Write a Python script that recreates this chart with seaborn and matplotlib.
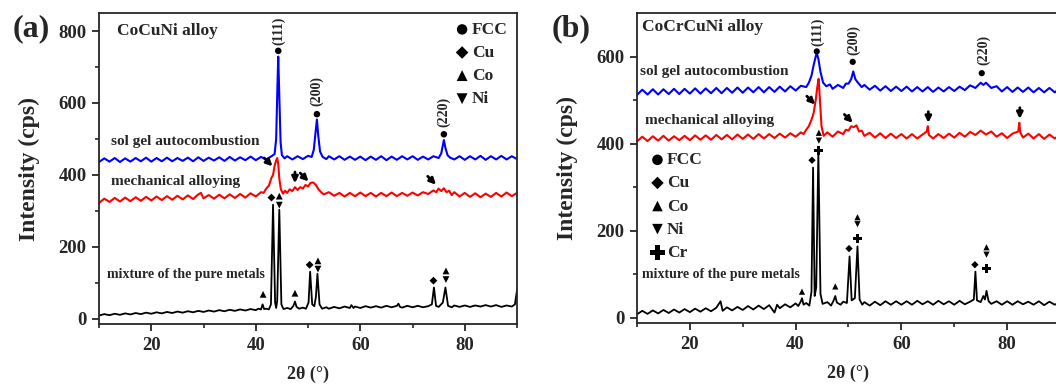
import matplotlib
matplotlib.use('Agg')
import matplotlib.pyplot as plt
import seaborn as sns

sns.set_style('ticks')
plt.rcParams['font.family'] = ['Liberation Serif', 'DejaVu Serif']
plt.rcParams['font.weight'] = 'bold'
plt.rcParams['axes.labelweight'] = 'bold'

# ---------------- (a) CoCuNi ----------------
a_mix_x = [10, 11, 12, 13, 14, 15, 16, 17, 18, 19, 20, 21, 22, 23, 24, 25, 26, 27, 28, 29, 30,
           31, 32, 33, 34, 35, 36, 37, 38, 39, 40, 40.5, 41, 41.3, 41.6, 42, 42.5, 42.9, 43.3,
           43.7, 43.9, 44.1, 44.5, 44.9, 45.3, 46, 46.7, 47.2, 47.5, 47.8, 48.3, 49, 49.6, 50.1,
           50.4, 50.8, 51.2, 51.5, 51.8, 52.2, 52.7, 53.5, 54, 55, 56, 57, 58, 58.3, 58.7, 59,
           60, 61, 62, 63, 64, 65, 66, 67, 67.3, 67.6, 68, 69, 70, 71, 72, 73, 73.7, 74.1, 74.5,
           75, 75.8, 76.3, 76.8, 77.5, 78, 79, 80, 81, 82, 83, 84, 85, 86, 87, 88, 89, 89.6, 90]
a_mix_y = [9, 13, 10, 14, 11, 15, 12, 16, 13, 17, 14, 18, 15, 19, 16, 20, 17, 21, 18, 22, 19,
           23, 20, 24, 21, 25, 22, 26, 23, 27, 24, 28, 26, 40, 27, 28, 26, 40, 317,
           45, 30, 50, 303, 40, 27, 30, 27, 36, 48, 33, 28, 31, 28, 45,
           131, 40, 35, 60, 125, 40, 28, 32, 28, 33, 29, 34, 30, 38, 30, 34,
           30, 35, 31, 35, 31, 36, 32, 36, 42, 33, 31, 36, 32, 36, 32, 35, 40, 87, 36,
           33, 45, 87, 36, 32, 37, 33, 37, 33, 37, 34, 38, 34, 38, 33, 37, 34, 40, 80]

a_ma_x = [10, 11, 12, 13, 14, 15, 16, 17, 18, 19, 20, 21, 22, 23, 24, 25, 26, 27, 28, 29, 29.5,
          30, 31, 32, 33, 34, 35, 36, 37, 38, 39, 40, 41, 41.5, 42, 42.5, 43, 43.3, 43.6, 43.9,
          44.1, 44.3, 44.5, 44.8, 45.2, 45.6, 46, 46.5, 47, 47.5, 48, 48.5, 49, 49.5, 50, 50.5,
          51, 51.5, 52, 52.5, 53, 54, 55, 56, 57, 58, 59, 60, 61, 62, 63, 64, 65, 66, 67, 68,
          69, 70, 71, 72, 73, 74, 74.5, 75, 75.5, 76, 76.5, 77, 77.5, 78, 79, 80, 81, 82, 83,
          84, 85, 86, 87, 88, 89, 90]
a_ma_y = [322, 334, 325, 336, 326, 337, 327, 338, 328, 339, 329, 340, 330, 341, 331, 342, 332, 343, 333, 346, 350,
          335, 344, 334, 345, 335, 346, 336, 347, 337, 349, 340, 352, 350, 362, 370, 392, 400, 425, 440,
          447, 430, 390, 360, 348, 356, 350, 360, 355, 366, 358, 366, 362, 372, 368, 378,
          379, 372, 360, 352, 346, 352, 342, 350, 340, 350, 341, 351, 341, 350, 340, 350, 341, 351, 341, 350,
          342, 351, 343, 352, 347, 357, 352, 362, 355, 363, 352, 356, 344, 352, 340, 350, 339, 349, 338,
          348, 339, 350, 340, 351, 341, 350]

a_sg_x = [10, 11, 12, 13, 14, 15, 16, 17, 18, 19, 20, 21, 22, 23, 24, 25, 26, 27, 28, 29, 30,
          31, 32, 33, 34, 35, 36, 37, 38, 39, 40, 41, 42, 43, 43.6, 43.9, 44.15, 44.3, 44.5,
          44.75, 45, 45.5, 46, 47, 48, 49, 50, 50.7, 51.1, 51.45, 51.7, 51.95, 52.3, 52.8, 53.5,
          54, 55, 56, 57, 58, 59, 60, 61, 62, 63, 64, 65, 66, 67, 68, 69, 70, 71, 72, 73, 74,
          75, 75.5, 75.8, 76.0, 76.3, 76.7, 77.2, 78, 79, 80, 81, 82, 83, 84, 85, 86, 87, 88, 89, 90]
a_sg_y = [436, 446, 437, 447, 436, 446, 437, 447, 438, 448, 437, 447, 438, 448, 438, 447, 439, 448, 438, 449, 439,
          448, 440, 449, 439, 450, 440, 449, 441, 451, 441, 450, 443, 452, 458, 500, 650, 729, 620,
          490, 455, 446, 452, 443, 452, 444, 453, 450, 470, 520, 554, 510, 465, 450, 444,
          452, 443, 452, 442, 451, 442, 451, 441, 451, 442, 452, 441, 451, 442, 452, 443, 452, 442, 451, 443, 452,
          447, 460, 482, 497, 475, 455, 448, 443, 452, 442, 452, 443, 453, 442, 452, 443, 453, 443, 452, 444]

a_fcc_x = [44.3, 51.7, 76.0]
a_fcc_y = [745, 569, 513]
a_cu_x = [43.0, 50.3, 74.0]
a_cu_y = [337, 150, 106]
a_co_x = [41.4, 44.5, 47.5, 51.9, 76.4]
a_co_y = [68, 341, 71, 161, 133]
a_ni_x = [44.5, 51.9, 76.4]
a_ni_y = [316, 138, 109]

a_hkl = ['(111)', '(200)', '(220)']
a_hkl_x = [44.3, 51.7, 76.0]
a_hkl_y = [800, 634, 574]

a_arrow_x = [43.2, 47.5, 50.1, 74.5]
a_arrow_y = [424, 377, 382, 373]
a_arrow_dir = ['se', 's', 'se', 'se']

# ---------------- (b) CoCrCuNi ----------------
b_mix_x = [10, 11, 12, 13, 14, 15, 16, 17, 18, 19, 20, 21, 22, 23, 24, 25, 25.8, 26.2, 27, 28,
           29, 30, 31, 32, 33, 34, 35, 36, 36.5, 37, 38, 39, 40, 40.5, 41, 41.2, 41.5, 42, 42.6,
           43, 43.3, 43.6, 43.9, 44.3, 44.7, 45.1, 46, 46.7, 47.2, 47.5, 47.8, 48.5, 49, 49.7,
           50.2, 50.6, 51.2, 51.7, 52.1, 52.6, 53, 54, 55, 56, 57, 58, 59, 60, 61, 62, 63, 64,
           65, 66, 67, 68, 69, 70, 71, 72, 73, 73.7, 74.0, 74.3, 75, 75.5, 75.8, 76.1, 76.5, 77,
           78, 79, 80, 81, 82, 83, 84, 85, 86, 87, 88, 89, 90]
b_mix_y = [8, 16, 9, 17, 10, 18, 11, 19, 12, 20, 13, 21, 14, 22, 15, 23, 38, 16, 24, 17,
           25, 18, 27, 19, 28, 20, 29, 12, 30, 22, 31, 24, 33, 27, 38, 45, 30, 34, 28,
           60, 345, 50, 70, 382, 55, 32, 36, 28, 40, 50, 35, 30, 37, 34,
           141, 40, 45, 164, 42, 30, 36, 28, 37, 29, 38, 30, 38, 30, 38, 30, 39, 31,
           38, 30, 39, 31, 38, 30, 39, 31, 37, 42, 106, 40, 36, 50, 42, 62, 38, 32,
           38, 30, 38, 30, 38, 31, 37, 30, 38, 29, 37, 30, 36]

b_ma_x = [10, 11, 12, 13, 14, 15, 16, 17, 18, 19, 20, 21, 22, 23, 24, 25, 26, 27, 28, 29, 30,
          31, 32, 33, 34, 35, 36, 37, 38, 39, 40, 41, 41.5, 42, 42.5, 43, 43.4, 43.8, 44.1,
          44.35, 44.6, 44.9, 45.3, 46, 47, 48, 49, 49.5, 50, 50.5, 51, 51.5, 52, 52.5, 53, 54,
          55, 56, 57, 58, 59, 60, 61, 62, 63, 64, 64.8, 65.0, 65.2, 66, 67, 68, 69, 70, 71, 72,
          73, 74, 75, 76, 77, 78, 79, 80, 81, 82.1, 82.3, 82.5, 83, 84, 85, 86, 87, 88, 89, 90]
b_ma_y = [405, 416, 406, 417, 407, 418, 407, 417, 408, 418, 408, 419, 409, 419, 409, 420, 410, 420, 410, 421, 411,
          421, 411, 422, 412, 422, 413, 423, 414, 424, 416, 426, 422, 432, 440, 455, 470, 500, 530,
          549, 500, 440, 418, 426, 416, 428, 422, 432, 430, 440, 438, 442, 428, 430, 418, 425,
          414, 424, 413, 423, 413, 422, 412, 422, 412, 421, 428, 440, 420, 412, 422, 413, 423, 414, 425, 416,
          427, 420, 430, 421, 428, 416, 424, 413, 423, 428, 448, 425, 414, 423, 412, 422, 411, 421, 412, 420]

b_sg_x = [10, 11, 12, 13, 14, 15, 16, 17, 18, 19, 20, 21, 22, 23, 24, 25, 26, 27, 28, 29, 30,
          31, 32, 33, 34, 35, 36, 37, 38, 39, 40, 41, 42, 42.5, 43, 43.4, 43.8, 44.0, 44.3, 44.7,
          45.2, 45.8, 46.5, 47, 48, 49, 49.5, 50, 50.5, 50.9, 51.3, 51.8, 52.5, 53, 54, 55, 56,
          57, 58, 59, 60, 61, 62, 63, 64, 65, 66, 67, 68, 69, 70, 71, 72, 73, 74, 75, 75.5, 76,
          77, 78, 79, 80, 81, 82, 83, 84, 85, 86, 87, 88, 89, 90]
b_sg_y = [512, 524, 513, 525, 513, 525, 514, 526, 514, 526, 515, 527, 515, 527, 516, 528, 516, 528, 517, 529, 517,
          529, 518, 530, 518, 530, 519, 531, 520, 532, 522, 533, 530, 540, 556, 580, 600, 608, 595, 565,
          540, 532, 536, 526, 535, 528, 538, 538, 548, 566, 548, 540, 530, 535, 524, 533, 522,
          532, 521, 531, 521, 531, 520, 530, 520, 530, 519, 529, 520, 530, 521, 531, 523, 534, 528, 540, 535, 540,
          528, 532, 520, 530, 519, 529, 519, 529, 518, 528, 518, 528, 518, 527]

b_fcc_x = [44.0, 50.8, 75.2]
b_fcc_y = [612, 588, 562]
b_cu_x = [43.1, 50.1, 73.9]
b_cu_y = [362, 159, 122]
b_co_x = [41.2, 44.4, 47.5, 51.7, 76.1]
b_co_y = [60, 425, 72, 231, 162]
b_ni_x = [44.4, 51.7, 76.1]
b_ni_y = [407, 215, 145]
b_cr_x = [44.4, 51.7, 76.1]
b_cr_y = [385, 183, 114]

b_hkl = ['(111)', '(200)', '(220)']
b_hkl_x = [44.1, 51.0, 75.5]
b_hkl_y = [658, 639, 616]

b_arrow_x = [43.7, 50.8, 65.1, 82.4]
b_arrow_y = [490, 448, 448, 457]
b_arrow_dir = ['se', 'se', 's', 's']

fig = plt.figure(figsize=(10.56, 3.85), dpi=100)
ax1 = fig.add_axes([0.0938, 0.158, 0.3958, 0.808])
ax2 = fig.add_axes([0.6032, 0.161, 0.4006, 0.805])


def draw_curves(ax, curves):
    for xs, ys, col, w in curves:
        sns.lineplot(x=xs, y=ys, ax=ax, color=col, lw=w, estimator=None, sort=False)


def draw_phase(ax, xs, ys, marker, size, label):
    sns.scatterplot(x=xs, y=ys, ax=ax, marker=marker, s=size, color='black',
                    edgecolor='none', linewidth=0, label=label, zorder=5)


def draw_arrows(ax, xs, ys, dirs):
    # short thick arrows pointing at the weak reflections
    for x, y, d in zip(xs, ys, dirs):
        off = (-6, 6) if d == 'se' else (0, 8)
        ax.annotate('', xy=(x, y), xytext=off, textcoords='offset points',
                    arrowprops=dict(arrowstyle='-|>', color='black', lw=2.0,
                                    mutation_scale=9, shrinkA=0, shrinkB=0))


def style_axis(ax, ylim, yticks):
    ax.set_xticks([20, 40, 60, 80])
    ax.set_xticks([10, 30, 50, 70, 90], minor=True)
    ax.set_yticks(yticks)
    ax.set_yticks([y + 100 for y in yticks if y + 100 < ylim[1]], minor=True)
    ax.set_xlim(10, 90)
    ax.set_ylim(*ylim)
    ax.tick_params(which='major', direction='out', length=5, width=1.3, labelsize=13.5, pad=4)
    ax.tick_params(which='minor', direction='out', length=3, width=1.2)
    ax.tick_params(top=False, right=False)
    for sp in ax.spines.values():
        sp.set_linewidth(1.3)
        sp.set_visible(True)
    for lab in ax.get_xticklabels() + ax.get_yticklabels():
        lab.set_fontweight('bold')
    ax.set_ylabel('Intensity (cps)', fontsize=17, fontweight='bold', labelpad=13)


leg_kw = dict(loc='upper left', frameon=False, handletextpad=0.15, handlelength=0.8,
              labelspacing=0.4, borderpad=0, borderaxespad=0,
              prop={'family': 'Liberation Serif', 'weight': 'bold', 'size': 12.5})

# panel (a)
draw_curves(ax1, [(a_mix_x, a_mix_y, 'black', 1.3), (a_ma_x, a_ma_y, '#ff0000', 1.5),
                  (a_sg_x, a_sg_y, '#0000ff', 1.5)])
draw_phase(ax1, a_fcc_x, a_fcc_y, 'o', 22, 'FCC')
draw_phase(ax1, a_cu_x, a_cu_y, 'D', 16, 'Cu')
draw_phase(ax1, a_co_x, a_co_y, '^', 24, 'Co')
draw_phase(ax1, a_ni_x, a_ni_y, 'v', 24, 'Ni')
draw_arrows(ax1, a_arrow_x, a_arrow_y, a_arrow_dir)
for t, x, y in zip(a_hkl, a_hkl_x, a_hkl_y):
    ax1.text(x, y, t, rotation=90, ha='center', va='center', fontsize=10, fontweight='bold')
ax1.text(13.5, 800, 'CoCuNi alloy', fontsize=12.5, fontweight='bold', va='center')
ax1.text(12.3, 492, 'sol gel autocombustion', fontsize=11, fontweight='bold', va='center')
ax1.text(12.3, 381, 'mechanical alloying', fontsize=11, fontweight='bold', va='center')
ax1.text(11.5, 124, 'mixture of the pure metals', fontsize=10, fontweight='bold', va='center')
style_axis(ax1, (-15, 850), [0, 200, 400, 600, 800])
ax1.set_xlabel('2θ (°)', fontsize=13, fontweight='bold')
ax1.xaxis.set_label_coords(0.5, -0.135)
ax1.legend(bbox_to_anchor=(0.852, 0.972), markerscale=1.6, **leg_kw)

# panel (b)
draw_curves(ax2, [(b_mix_x, b_mix_y, 'black', 1.3), (b_ma_x, b_ma_y, '#ff0000', 1.5),
                  (b_sg_x, b_sg_y, '#0000ff', 1.5)])
draw_phase(ax2, b_fcc_x, b_fcc_y, 'o', 20, 'FCC')
draw_phase(ax2, b_cu_x, b_cu_y, 'D', 14, 'Cu')
draw_phase(ax2, b_co_x, b_co_y, '^', 20, 'Co')
draw_phase(ax2, b_ni_x, b_ni_y, 'v', 20, 'Ni')
draw_phase(ax2, b_cr_x, b_cr_y, 'P', 40, 'Cr')
draw_arrows(ax2, b_arrow_x, b_arrow_y, b_arrow_dir)
for t, x, y in zip(b_hkl, b_hkl_x, b_hkl_y):
    ax2.text(x, y, t, rotation=90, ha='center', va='center', fontsize=10, fontweight='bold')
ax2.text(11.0, 667, 'CoCrCuNi alloy', fontsize=12.5, fontweight='bold', va='center')
ax2.text(10.6, 566, 'sol gel autocombustion', fontsize=11, fontweight='bold', va='center')
ax2.text(11.6, 453, 'mechanical alloying', fontsize=11, fontweight='bold', va='center')
ax2.text(10.9, 100, 'mixture of the pure metals', fontsize=10, fontweight='bold', va='center')
style_axis(ax2, (-12, 700), [0, 200, 400, 600])
ax2.set_xlabel('2θ (°)', fontsize=13, fontweight='bold')
ax2.xaxis.set_label_coords(0.5, -0.135)
ax2.legend(bbox_to_anchor=(0.032, 0.551), markerscale=1.7, **leg_kw)

fig.text(0.012, 0.925, '(a)', fontsize=23, fontweight='bold', va='center')
fig.text(0.522, 0.925, '(b)', fontsize=23, fontweight='bold', va='center')

fig.savefig('out.png', dpi=100)
